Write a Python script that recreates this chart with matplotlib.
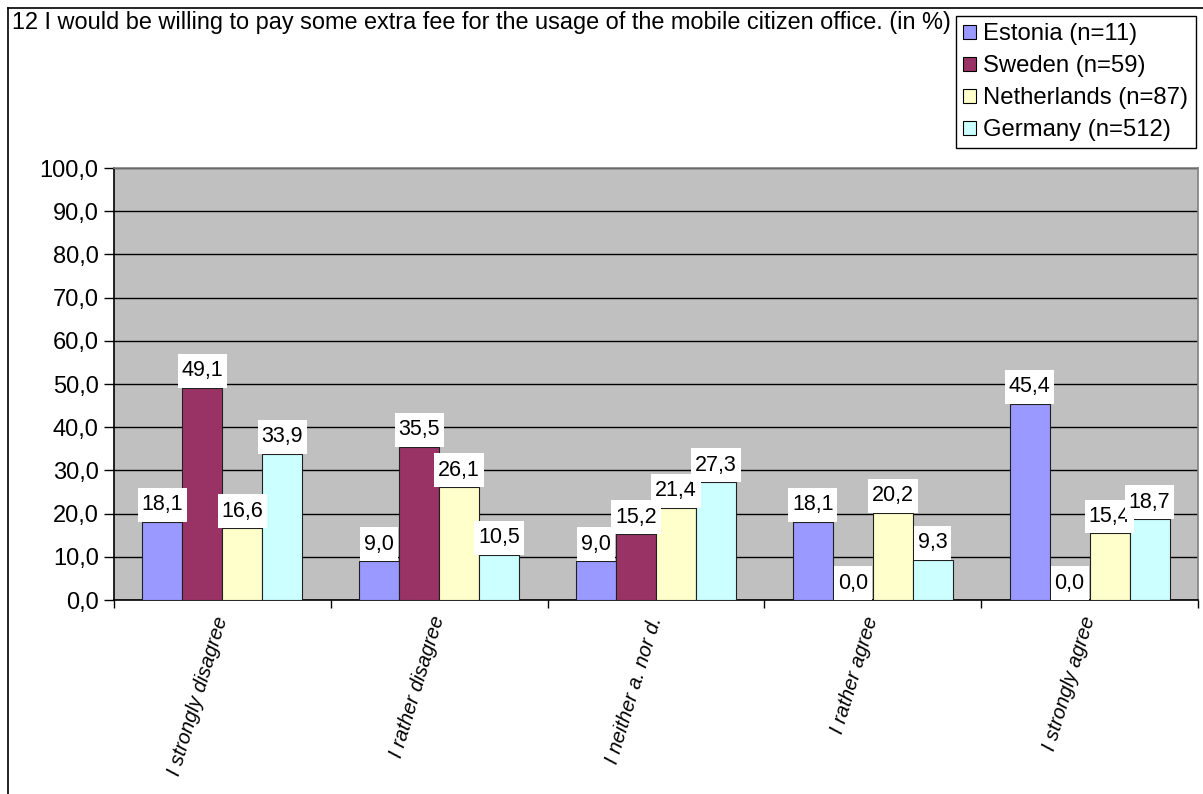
import matplotlib.pyplot as plt
import numpy as np
from matplotlib.lines import Line2D
from matplotlib.patches import Patch
from matplotlib.path import Path
from matplotlib.ticker import FixedLocator, FuncFormatter

plt.rcParams["font.family"] = ["Liberation Sans", "DejaVu Sans"]

title = "12 I would be willing to pay some extra fee for the usage of the mobile citizen office. (in %)"
categories = ["I strongly disagree", "I rather disagree", "I neither a. nor d.",
              "I rather agree", "I strongly agree"]
countries = ["Estonia (n=11)", "Sweden (n=59)", "Netherlands (n=87)", "Germany (n=512)"]
estonia = [18.1, 9.0, 9.0, 18.1, 45.4]
sweden = [49.1, 35.5, 15.2, 0.0, 0.0]
netherlands = [16.6, 26.1, 21.4, 20.2, 15.4]
germany = [33.9, 10.5, 27.3, 9.3, 18.7]
colors = ["#9999FF", "#993366", "#FFFFCC", "#CCFFFF"]

series = [estonia, sweden, netherlands, germany]

LABEL_SIZE = 15.5
PAD_X, PAD_Y = 0.18, 0.3


def label_box(x0, y0, width, height, mutation_size):
    # plain rectangle with more padding above/below than at the sides
    px, py = PAD_X * mutation_size, PAD_Y * mutation_size
    x0, y0 = x0 - px, y0 - py
    x1, y1 = x0 + width + 2 * px, y0 + height + 2 * py
    return Path([(x0, y0), (x1, y0), (x1, y1), (x0, y1), (x0, y0)],
                [Path.MOVETO, Path.LINETO, Path.LINETO, Path.LINETO, Path.CLOSEPOLY])


W, H = 1203, 794
fig = plt.figure(figsize=(W / 100, H / 100), dpi=100)
ax = fig.add_axes([114 / W, 1 - 600 / H, 1084 / W, 432 / H])
ax.set_facecolor("#C0C0C0")

x = np.arange(len(categories))
bw = 0.1845
for i, (vals, col) in enumerate(zip(series, colors)):
    pos = x + (i - 1.5) * bw
    ax.bar(pos, vals, width=bw, color=col, edgecolor="#202020", linewidth=0.8, zorder=3)
    for px, v in zip(pos, vals):
        ax.annotate(f"{v:.1f}".replace(".", ","), (px, v), xytext=(0, PAD_Y * LABEL_SIZE),
                    textcoords="offset points", ha="center", va="bottom",
                    fontsize=LABEL_SIZE, zorder=5,
                    bbox=dict(boxstyle=label_box, fc="white", ec="none"))

ax.set_xlim(-0.5, len(categories) - 0.5)
ax.set_ylim(0, 100)
ax.set_yticks(np.arange(0, 101, 10))
ax.yaxis.set_major_formatter(FuncFormatter(lambda v, p: f"{v:.1f}".replace(".", ",")))
ax.yaxis.grid(True, color="black", linewidth=1, zorder=1)
ax.set_axisbelow(True)
ax.tick_params(axis="y", direction="out", length=7, width=1, labelsize=17, pad=4)

ax.set_xticks(x)
ax.set_xticklabels(categories, rotation=73, ha="right", va="center",
                   rotation_mode="anchor", fontsize=14.5, style="italic")
ax.tick_params(axis="x", which="major", length=0, pad=12)
ax.xaxis.set_minor_locator(FixedLocator(np.arange(-0.5, len(categories), 1.0)))
ax.tick_params(axis="x", which="minor", direction="out", length=6, width=1)

for side in ["left", "bottom"]:
    ax.spines[side].set_color("black")
    ax.spines[side].set_linewidth(1.2)
for side in ["top", "right"]:
    ax.spines[side].set_color("#808080")
    ax.spines[side].set_linewidth(1.2)

fig.text(12 / W, 1 - 22 / H, title, ha="left", va="center", fontsize=16.9)

handles = [Patch(facecolor=c, edgecolor="black", linewidth=0.8) for c in colors]
leg = fig.legend(handles, countries, loc="upper left",
                 bbox_to_anchor=(956 / W, 1 - 16 / H), fontsize=17.2,
                 frameon=True, fancybox=False, framealpha=1, edgecolor="black",
                 handlelength=0.55, handleheight=0.55, handletextpad=0.3,
                 labelspacing=0.42, borderpad=0.3, borderaxespad=0)
leg.get_frame().set_linewidth(1)

# outer chart border
fig.add_artist(Line2D([8 / W, 8 / W], [0, 1 - 8 / H], color="black", linewidth=1.2))
fig.add_artist(Line2D([8 / W, 1], [1 - 8 / H, 1 - 8 / H], color="black", linewidth=1.2))

fig.savefig("out.png", dpi=100)
